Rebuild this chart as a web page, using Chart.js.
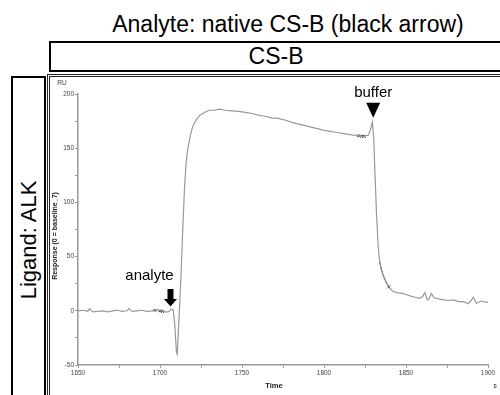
<!DOCTYPE html>
<html lang="en">
<head>
  <meta charset="UTF-8" />
  <title>Analyte: native CS-B</title>
  <script src="https://cdn.jsdelivr.net/npm/chart.js"></script>
  <style>
    body {
      margin: 0;
      background: #fff;
      font-family: 'Liberation Sans', Arial, sans-serif;
      color: #000;
    }
    #wrap {
      position: relative;
      width: 500px;
      height: 395px;
      overflow: hidden;
    }
    #title {
      position: absolute;
      left: 50px;
      width: 476px;
      top: 11px;
      font-size: 23px;
      line-height: 26px;
      text-align: center;
    }
    #header {
      position: absolute;
      left: 49px;
      top: 41px;
      width: 454px;
      height: 31px;
      box-sizing: border-box;
      border: 2px solid #000;
      font-size: 23px;
      line-height: 27px;
      text-align: center;
    }
    #side {
      position: absolute;
      left: 11px;
      top: 76px;
      width: 35px;
      height: 340px;
      box-sizing: border-box;
      border: 2px solid #000;
    }
    #side span {
      position: absolute;
      left: 15.5px;
      top: 162px;
      font-size: 22px;
      line-height: 26px;
      white-space: nowrap;
      transform: translate(-50%, -50%) rotate(-90deg);
    }
    #panel {
      position: absolute;
      left: 47px;
      top: 74px;
      width: 470px;
      height: 340px;
      box-sizing: border-box;
      border: 3px double #222;
    }
    canvas {
      position: absolute;
      left: 0;
      top: 0;
    }
  </style>
</head>
<body>
  <div id="wrap">
    <div id="title">Analyte: native CS-B (black arrow)</div>
    <div id="header">CS-B</div>
    <div id="side"><span>Ligand: ALK</span></div>
    <div id="panel"></div>
    <canvas id="sprChart" width="500" height="395"></canvas>
  </div>

  <script>
    // sensorgram: time (s) and response (RU)
    const times = [
      1650, 1653, 1656, 1657, 1659, 1662, 1665, 1668, 1671, 1674, 1677, 1680, 1681, 1683,
      1686, 1689, 1692, 1695, 1697, 1699, 1701, 1703, 1705, 1707, 1708, 1709, 1710, 1710.5,
      1711, 1712, 1713, 1714, 1715, 1716, 1717, 1718, 1719, 1720, 1722, 1724, 1727, 1730,
      1733, 1736, 1740, 1744, 1748, 1752, 1756, 1760, 1764, 1768, 1772, 1776, 1780, 1784,
      1788, 1792, 1796, 1800, 1804, 1808, 1812, 1816, 1820, 1824, 1827, 1828.5, 1829.5,
      1830.3, 1831, 1832, 1833, 1834, 1835, 1836, 1838, 1840, 1842, 1845, 1848, 1850, 1853,
      1856, 1858, 1860, 1861.5, 1863, 1864, 1865.5, 1867, 1870, 1873, 1876, 1879, 1882,
      1885, 1888, 1890, 1891, 1893, 1896, 1898, 1900
    ];
    const response = [
      0, 0.5, -0.5, 2, -1, -0.5, 0, -1, 0, 0.5, -0.5, 0, 2, -0.5,
      0, 0.5, -0.5, 0, 1, 0.5, 0, -1, -1, 1.5, 1, -12, -38, -40,
      -25, 5, 40, 80, 115, 138, 150, 158, 165, 170, 176, 180, 183, 185,
      185, 186, 185, 184.5, 184, 183, 182, 180.5, 179.5, 178, 177.5, 176, 174, 172.5,
      171, 169.5, 168, 166.5, 165.5, 164.5, 163.5, 162.5, 161.5, 161, 162, 168, 174,
      160, 130, 90, 60, 45, 38, 33, 26, 21, 18, 16.5, 16, 15, 13.5,
      12.3, 11.5, 13, 17, 10, 11, 16, 12, 11, 10, 9.5, 10, 8.5,
      8.5, 6.5, 10, 12.5, 7, 9, 8, 8
    ];
    // black fitting segment on the dissociation drop
    const fitTimes = [1834, 1835, 1836, 1838, 1840];
    const fitResponse = [45, 38, 33, 26, 21];
    // report-point crosses
    const markTimes = [1697, 1700, 1701.5, 1821, 1823, 1824.5, 1839.5];
    const markResponse = [0.5, 0, -0.5, 161.5, 161, 161, 22];

    const xTicks = [1650, 1700, 1750, 1800, 1850, 1900];
    const yTicks = [-50, 0, 50, 100, 150, 200];

    const toPts = (xs, ys) => xs.map((t, i) => ({ x: t, y: ys[i] }));

    const axisFont = { family: "'Liberation Sans', Arial, sans-serif", size: 6.5 };

    // arrows + texts that are not part of the scales
    const extras = {
      id: 'extras',
      afterDraw(chart) {
        const { ctx, scales: { x, y } } = chart;
        ctx.save();
        ctx.fillStyle = '#444';
        ctx.textAlign = 'center';
        ctx.textBaseline = 'alphabetic';
        ctx.font = "6.5px 'Liberation Sans', Arial, sans-serif";
        ctx.fillText('RU', 62, 85);
        ctx.fillStyle = '#222';
        ctx.font = "bold 7.5px 'Liberation Sans', Arial, sans-serif";
        ctx.fillText('Time', 274, 388);
        ctx.font = "6.5px 'Liberation Sans', Arial, sans-serif";
        ctx.fillText('s', 495, 388);

        ctx.save();
        ctx.translate(57, 236);
        ctx.rotate(-Math.PI / 2);
        ctx.font = "bold 7px 'Liberation Sans', Arial, sans-serif";
        ctx.fillText('Response (0 = baseline_7)', 0, 0);
        ctx.restore();

        ctx.fillStyle = '#000';
        // analyte: block arrow
        let ax = x.getPixelForValue(1706.4);
        let ay = y.getPixelForValue(4);
        ctx.beginPath();
        ctx.moveTo(ax, ay);
        ctx.lineTo(ax - 6.5, ay - 7.5);
        ctx.lineTo(ax - 3, ay - 7.5);
        ctx.lineTo(ax - 3, ay - 17.5);
        ctx.lineTo(ax + 3, ay - 17.5);
        ctx.lineTo(ax + 3, ay - 7.5);
        ctx.lineTo(ax + 6.5, ay - 7.5);
        ctx.closePath();
        ctx.fill();
        ctx.font = "15px 'Liberation Sans', Arial, sans-serif";
        ctx.fillText('analyte', ax - 21, ay - 26);

        // buffer: triangle
        let bx = x.getPixelForValue(1830);
        let by = y.getPixelForValue(178);
        ctx.beginPath();
        ctx.moveTo(bx, by);
        ctx.lineTo(bx - 7, by - 15);
        ctx.lineTo(bx + 7, by - 15);
        ctx.closePath();
        ctx.fill();
        ctx.fillText('buffer', bx, by - 21);
        ctx.restore();
      }
    };

    new Chart(document.getElementById('sprChart'), {
      type: 'line',
      data: {
        datasets: [
          {
            data: toPts(times, response),
            borderColor: '#999',
            borderWidth: 1.2,
            pointRadius: 0,
            tension: 0
          },
          {
            data: toPts(fitTimes, fitResponse),
            borderColor: '#222',
            borderWidth: 1,
            pointRadius: 0,
            tension: 0
          },
          {
            type: 'scatter',
            data: toPts(markTimes, markResponse),
            pointStyle: 'crossRot',
            pointRadius: 2,
            borderColor: '#111',
            borderWidth: 1
          }
        ]
      },
      options: {
        responsive: false,
        animation: false,
        layout: { padding: { left: 50, right: 12, top: 94, bottom: 0 } },
        plugins: {
          legend: { display: false },
          tooltip: { enabled: false }
        },
        scales: {
          x: {
            type: 'linear',
            min: 1650,
            max: 1900,
            afterFit: s => { s.height = 30; },
            ticks: {
              stepSize: 25,
              autoSkip: false,
              maxRotation: 0,
              padding: 1,
              color: '#444',
              font: axisFont,
              callback: v => xTicks.includes(v) ? v : ''
            },
            grid: { drawOnChartArea: false, tickLength: 3, color: '#999' },
            border: { color: '#999', width: 1.5 }
          },
          y: {
            min: -50,
            max: 200,
            afterFit: s => { s.width = 28; },
            ticks: {
              stepSize: 25,
              autoSkip: false,
              padding: 1,
              color: '#444',
              font: axisFont,
              callback: v => yTicks.includes(v) ? v : ''
            },
            grid: { drawOnChartArea: false, tickLength: 3, color: '#999' },
            border: { color: '#999', width: 1.5 }
          }
        }
      },
      plugins: [extras]
    });
  </script>
</body>
</html>
